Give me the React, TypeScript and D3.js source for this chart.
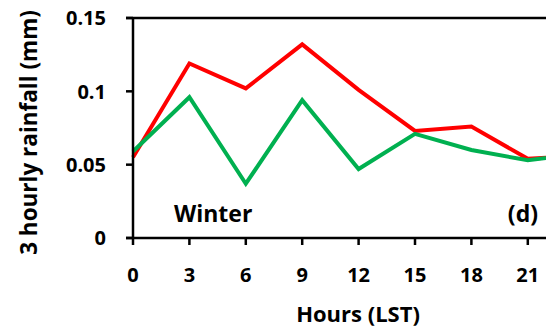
import React from "react";
import * as d3 from "d3";

const hours = [0, 3, 6, 9, 12, 15, 18, 21, 24];
const xTicks = [0, 3, 6, 9, 12, 15, 18, 21];
const redSeries = [0.055, 0.119, 0.102, 0.132, 0.101, 0.073, 0.076, 0.054, 0.056];
const greenSeries = [0.059, 0.096, 0.037, 0.094, 0.047, 0.071, 0.06, 0.053, 0.058];
const yTicks = [0, 0.05, 0.1, 0.15];
const yTickLabels = ["0", "0.05", "0.1", "0.15"];

const W = 546;
const H = 329;
const left = 133;
const top = 18;
const bottom = 238;
const step = 56.4;

export default function App() {
  const x = d3.scaleLinear().domain([0, 24]).range([left, left + 8 * step]);
  const y = d3.scaleLinear().domain([0, 0.15]).range([bottom, top]);
  const line = d3
    .line<number>()
    .x((_, i) => x(hours[i]))
    .y((d) => y(d));
  const font = "'Open Sans', Lato, sans-serif";
  return (
    <svg
      width={W}
      height={H}
      style={{ position: "absolute", left: 0, top: 0, background: "#fff" }}
      fontFamily={font}
      fontWeight={700}
    >
      <defs>
        <clipPath id="clip">
          <rect x={0} y={0} width={W} height={H} />
        </clipPath>
      </defs>
      <g clipPath="url(#clip)">
        <path d={line(redSeries) || ""} fill="none" stroke="#FF0000" strokeWidth={4} strokeLinejoin="miter" />
        <path d={line(greenSeries) || ""} fill="none" stroke="#00B050" strokeWidth={4} strokeLinejoin="miter" />
        <line x1={left} x2={left} y1={top - 1} y2={bottom + 1} stroke="#000" strokeWidth={2.5} />
        <line x1={left - 7} x2={W} y1={bottom} y2={bottom} stroke="#000" strokeWidth={2.5} />
        <line x1={left - 7} x2={W} y1={top} y2={top} stroke="#000" strokeWidth={2.5} />
        {yTicks.map((t, i) => (
          <g key={"y" + i}>
            <line x1={left - 7} x2={left} y1={y(t)} y2={y(t)} stroke="#000" strokeWidth={2.5} />
            <text x={106} y={y(t)} dy="0.36em" textAnchor="end" fontSize={20}>
              {yTickLabels[i]}
            </text>
          </g>
        ))}
        {xTicks.map((t) => (
          <g key={"x" + t}>
            <line x1={x(t)} x2={x(t)} y1={bottom} y2={bottom + 7} stroke="#000" strokeWidth={2.5} />
            <text x={x(t)} y={275} dy="0.36em" textAnchor="middle" fontSize={20}>
              {t}
            </text>
          </g>
        ))}
      </g>
      <text x={174} y={222} fontSize={23}>Winter</text>
      <text x={538} y={222} textAnchor="end" fontSize={23}>(d)</text>
      <text x={358} y={314} dy="0.36em" textAnchor="middle" fontSize={22}>Hours (LST)</text>
      <text
        transform={`translate(29,132.5) rotate(-90)`}
        textAnchor="middle"
        dy="0.36em"
        fontSize={22.5}
      >
        3 hourly rainfall (mm)
      </text>
    </svg>
  );
}
